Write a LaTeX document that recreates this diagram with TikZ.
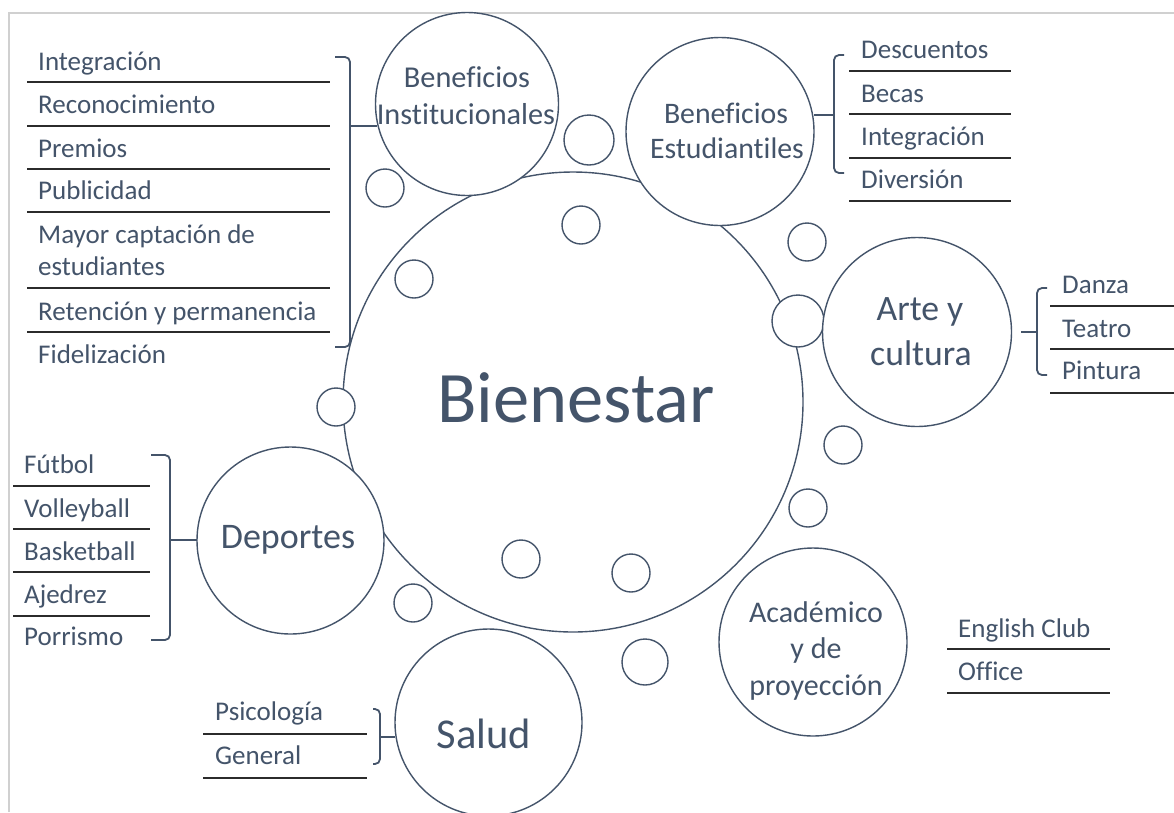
\documentclass[tikz,border=0pt]{standalone}
\usepackage{fontspec}
\setmainfont{Carlito}[Ligatures=NoCommon]
\definecolor{slate}{HTML}{44546A}
\definecolor{rulecol}{HTML}{2B2B2B}
\definecolor{framecol}{HTML}{D0D0D0}
\begin{document}
\begin{tikzpicture}[x=1pt,y=-1pt,
  bub/.style={circle, draw=slate, line width=1.4pt, fill=white, inner sep=0pt, minimum size=#1},
  dot/.style={circle, draw=slate, line width=1.4pt, fill=white, inner sep=0pt, minimum size=#1},
  item/.style={anchor=base west, inner sep=0pt, text=slate, font=\fontsize{27}{30}\selectfont},
  ctext/.style={anchor=base, inner sep=0pt, text=slate, font=\fontsize{#1}{#1}\selectfont},
  uline/.style={draw=rulecol, line width=1.8pt},
  bracebox/.style={draw=slate, line width=1.8pt, rounded corners=5pt}]
\useasboundingbox (0,0) rectangle (1174,812);
\fill[white] (0,0) rectangle (1174,812);
% frame
\draw[framecol, line width=2.2pt] (9,812) -- (9,13) -- (1174,13);

% central circle
\node[bub=460] (big) at (573,402) {};

% small circles
\node[dot=38] (d1) at (385,188) {};
\node[dot=38] (d2) at (414,279) {};
\node[dot=38] (d3) at (336,407) {};
\node[dot=38] (d4) at (581,225) {};
\node[dot=38] (d5) at (521,559) {};
\node[dot=38] (d6) at (631,573) {};
\node[dot=38] (d7) at (413,603) {};
\node[dot=38] (d8) at (807,242) {};
\node[dot=38] (d9) at (843,445) {};
\node[dot=38] (d10) at (808,508) {};
\node[dot=50] (d11) at (589,140) {};
\node[dot=52] (d12) at (798,321) {};
\node[dot=46] (d13) at (645,662) {};

% satellite circles
\node[bub=183] (inst) at (467,104) {};
\node[bub=188] (estu) at (720,131.5) {};
\node[bub=189] (arte) at (917,332) {};
\node[bub=187] (dep) at (290.5,540.5) {};
\node[bub=187] (salud) at (488.5,722.5) {};
\node[bub=188] (acad) at (813,642) {};

% circle texts
\node[ctext=72.5] (tbien) at (576,422) {Bienestar};
\node[ctext=30.3] (tinst1) at (467,87) {Beneficios};
\node[ctext=30.3] (tinst2) at (466,124) {Institucionales};
\node[ctext=29.8] (testu1) at (726,123) {Beneficios};
\node[ctext=29.8] (testu2) at (727,158) {Estudiantiles};
\node[ctext=35.7] (tarte1) at (920,320) {Arte y};
\node[ctext=35.7] (tarte2) at (921,365) {cultura};
\node[ctext=36] (tdep) at (288,548) {Deportes};
\node[ctext=42.5] (tsalud) at (484,748) {Salud};
\node[ctext=30] (tacad1) at (816,622) {Académico};
\node[ctext=30] (tacad2) at (816,658) {y de};
\node[ctext=30] (tacad3) at (816,695) {proyección};

% left list (Beneficios Institucionales)
\node[item] (l1) at (38,70) {Integración};
\node[item] (l2) at (38,113) {Reconocimiento};
\node[item] (l3) at (38,157) {Premios};
\node[item] (l4) at (38,199) {Publicidad};
\node[item] (l5) at (38,243) {Mayor captación de};
\node[item] (l5b) at (38,275) {estudiantes};
\node[item] (l6) at (38,320) {Retención y permanencia};
\node[item] (l7) at (38,363) {Fidelización};
\foreach \yy in {82,126,169,212,288,332} \draw[uline] (27,\yy) -- (330,\yy);
\draw[bracebox] (335,57) -- (350,57) -- (350,347) -- (335,347);
\draw[bracebox] (350,126) -- (377,126);

% Beneficios Estudiantiles list
\node[item] (e1) at (861,58) {Descuentos};
\node[item] (e2) at (861,102) {Becas};
\node[item] (e3) at (861,145) {Integración};
\node[item] (e4) at (861,188) {Diversión};
\foreach \yy in {71,114,158,201} \draw[uline] (849,\yy) -- (1011,\yy);
\draw[bracebox] (844,55) -- (834,55) -- (834,173) -- (844,173);
\draw[bracebox] (814,115) -- (834,115);

% Arte y cultura list
\node[item] (a1) at (1062,293) {Danza};
\node[item] (a2) at (1062,337) {Teatro};
\node[item] (a3) at (1062,379) {Pintura};
\foreach \yy in {306,349,393} \draw[uline] (1050,\yy) -- (1174,\yy);
\draw[bracebox] (1047,288) -- (1037,288) -- (1037,375) -- (1047,375);
\draw[bracebox] (1021,332) -- (1037,332);

% Deportes list
\node[item] (s1) at (24,473) {Fútbol};
\node[item] (s2) at (24,517) {Volleyball};
\node[item] (s3) at (24,560) {Basketball};
\node[item] (s4) at (24,603) {Ajedrez};
\node[item] (s5) at (24,645) {Porrismo};
\foreach \yy in {486,529,572,616} \draw[uline] (13,\yy) -- (150,\yy);
\draw[bracebox] (151,455) -- (170,455) -- (170,640) -- (151,640);
\draw[bracebox] (170,540) -- (197,540);

% Salud list
\node[item] (h1) at (215,720) {Psicología};
\node[item] (h2) at (215,764) {General};
\foreach \yy in {734,778} \draw[uline] (203,\yy) -- (367,\yy);
\draw[bracebox] (373,709) -- (380,709) -- (380,764) -- (373,764);
\draw[bracebox] (380,737) -- (395,737);

% Academico list
\node[item] (c1) at (958,637) {English Club};
\node[item] (c2) at (958,680) {Office};
\foreach \yy in {649,693} \draw[uline] (947,\yy) -- (1110,\yy);
\end{tikzpicture}
\end{document}
